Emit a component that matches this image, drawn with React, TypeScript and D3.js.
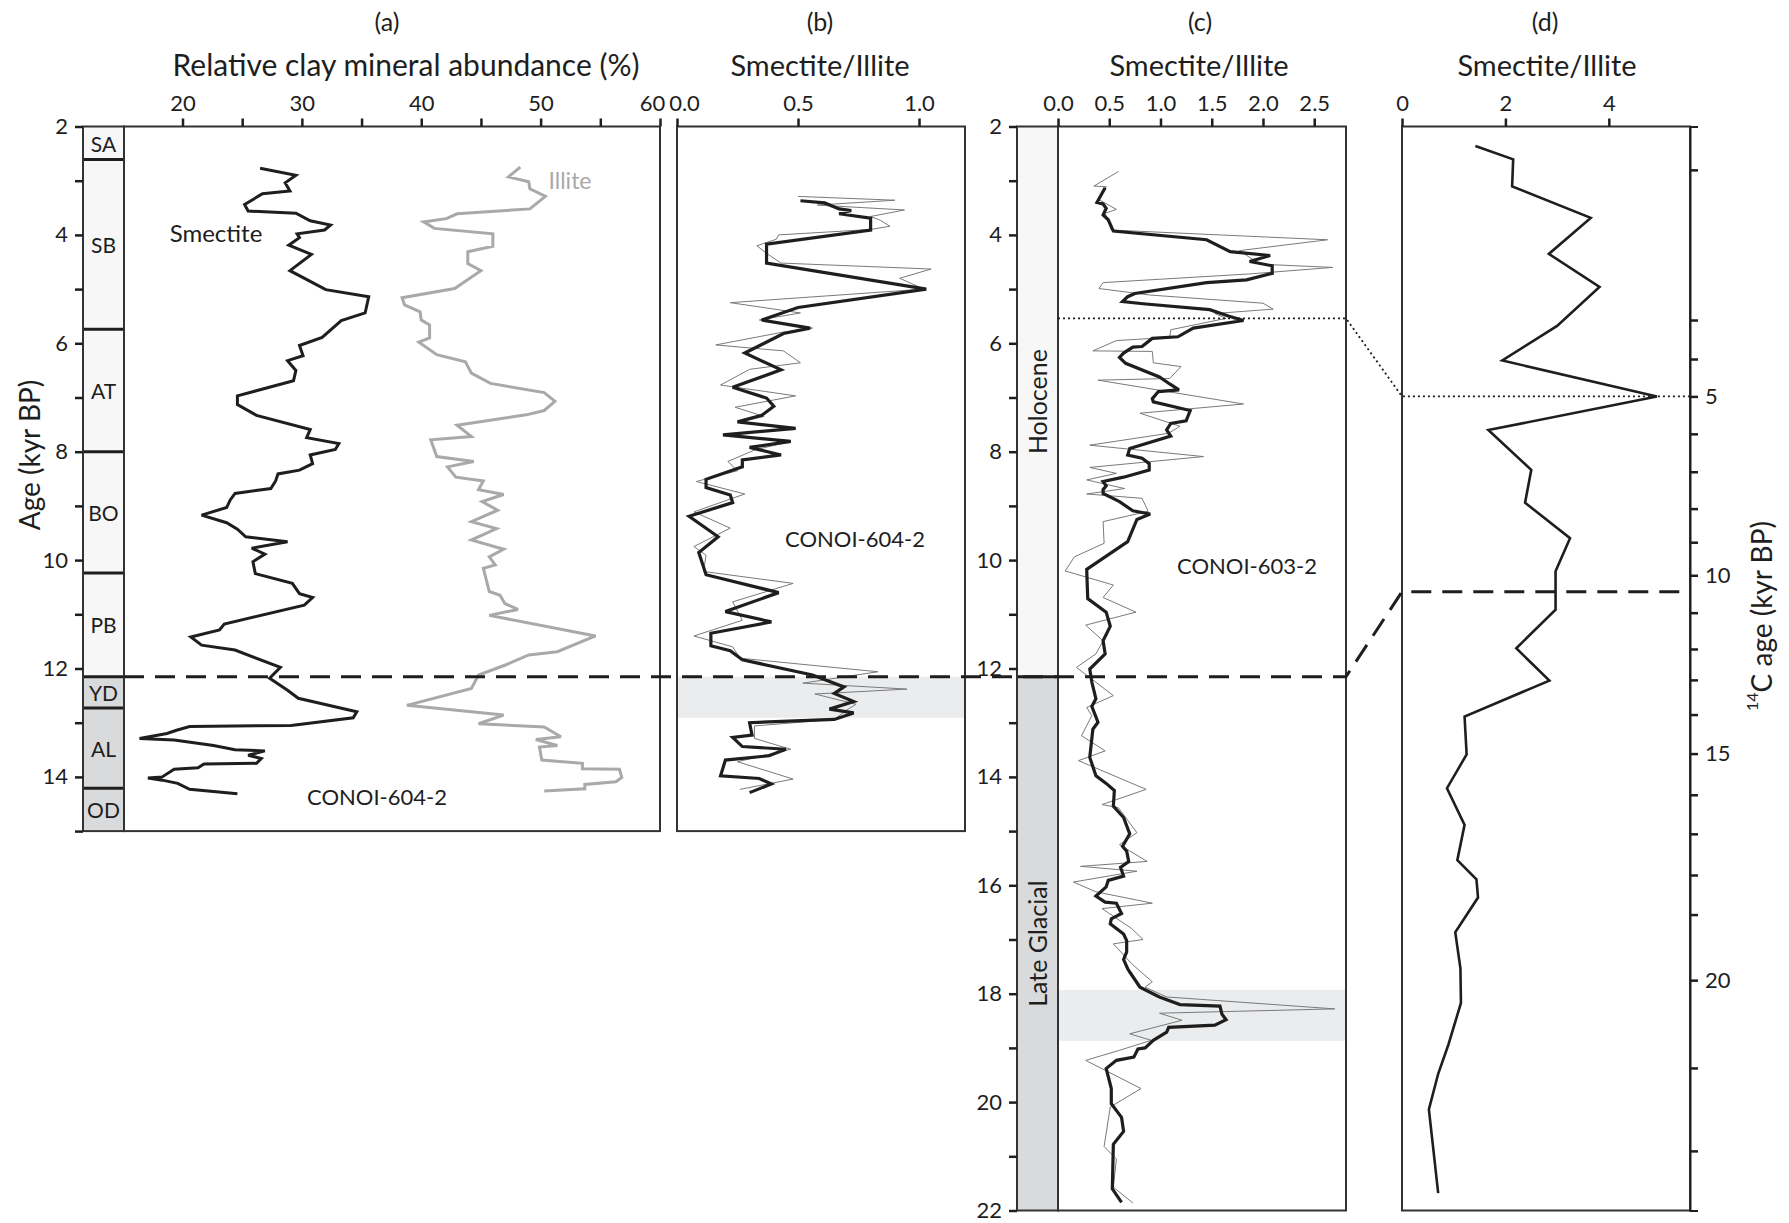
import React, { useEffect, useRef } from 'react';
import * as d3 from 'd3';

const FONT = "Lato, 'Open Sans', sans-serif";

// pollen zones of the CONOI-604-2 column (cal kyr BP)
const zoneNames = ['SA', 'SB', 'AT', 'BO', 'PB', 'YD', 'AL', 'OD'];
const zoneEdges = [2, 2.61, 5.74, 8.0, 10.24, 12.15, 12.73, 14.21, 15];
const zoneDark = [false, false, false, false, false, true, true, true];

// periods of the CONOI-603-2 column
const periodNames = ['Holocene', 'Late Glacial'];
const periodEdges = [2, 12.15, 22];

// (a) relative abundance (%) : [age cal kyr BP, value]
const smectite = [
  [2.77, 26.5], [2.9, 29.5], [3.04, 28.6], [3.19, 29.0], [3.24, 26.7], [3.44, 25.2], [3.56, 25.5],
  [3.6, 29.5], [3.74, 30.7], [3.82, 32.4], [3.91, 31.9], [3.98, 29.6], [4.05, 29.8], [4.19, 28.9],
  [4.36, 30.8], [4.66, 29.0], [5.01, 32.0], [5.14, 35.6], [5.44, 35.3], [5.58, 33.3], [5.89, 31.7],
  [6.04, 29.8], [6.23, 30.1], [6.32, 28.8], [6.5, 29.5], [6.69, 29.3], [6.97, 24.6], [7.13, 24.6],
  [7.33, 26.2], [7.59, 30.7], [7.74, 30.4], [7.85, 33.1], [7.96, 32.8], [8.06, 30.7], [8.22, 30.9],
  [8.34, 29.8], [8.41, 28.0], [8.54, 27.8], [8.68, 27.4], [8.77, 24.4], [8.89, 24.0], [9.03, 23.7],
  [9.17, 21.6], [9.31, 23.7], [9.43, 24.6], [9.57, 25.3], [9.66, 28.8], [9.78, 25.8], [9.89, 26.9],
  [10.03, 25.9], [10.25, 26.1], [10.43, 29.2], [10.62, 29.8], [10.69, 30.9], [10.83, 30.2],
  [11.18, 23.5], [11.29, 23.1], [11.42, 20.7], [11.57, 21.6], [11.66, 24.4], [11.98, 28.2],
  [12.18, 27.3], [12.4, 28.8], [12.55, 29.7], [12.8, 34.6], [12.91, 34.3], [13.05, 29.1],
  [13.07, 20.6], [13.14, 19.5], [13.2, 18.7], [13.29, 16.4], [13.32, 19.3], [13.42, 22.6],
  [13.5, 24.4], [13.52, 26.9], [13.6, 25.5], [13.66, 26.6], [13.75, 26.2], [13.76, 21.8],
  [13.83, 21.3], [13.86, 19.3], [14.0, 18.3], [14.02, 17.1], [14.06, 18.3], [14.12, 19.6],
  [14.23, 20.6], [14.31, 24.6],
];
const illite = [
  [2.75, 48.3], [2.93, 47.3], [3.02, 49.0], [3.15, 49.1], [3.29, 50.4], [3.52, 49.1], [3.61, 43.0],
  [3.7, 42.1], [3.76, 40.2], [3.88, 41.1], [3.98, 46.0], [4.21, 46.0], [4.31, 43.9], [4.53, 43.9],
  [4.66, 45.0], [4.99, 42.8], [5.16, 38.4], [5.29, 38.6], [5.42, 39.9], [5.57, 40.0], [5.66, 40.7],
  [5.9, 40.7], [5.98, 39.8], [6.21, 41.3], [6.34, 43.7], [6.55, 44.2], [6.74, 45.8], [6.91, 50.3],
  [7.07, 51.2], [7.24, 50.3], [7.32, 48.8], [7.51, 43.0], [7.72, 44.2], [7.78, 40.8], [8.09, 41.3],
  [8.18, 44.4], [8.28, 42.2], [8.47, 42.9], [8.54, 45.2], [8.7, 44.8], [8.79, 46.9], [8.92, 45.1],
  [9.08, 46.4], [9.29, 44.2], [9.42, 46.3], [9.63, 44.2], [9.8, 46.9], [9.94, 45.7], [10.09, 46.2],
  [10.15, 45.2], [10.58, 45.7], [10.65, 46.6], [10.8, 47.0], [10.91, 48.1], [11.02, 45.7],
  [11.4, 54.6], [11.69, 51.4], [11.75, 49.0], [11.94, 47.0], [12.12, 44.8], [12.37, 44.2],
  [12.68, 38.8], [12.86, 46.9], [13.02, 44.8], [13.08, 50.3], [13.26, 51.7], [13.31, 49.6],
  [13.42, 51.4], [13.45, 49.9], [13.69, 50.1], [13.75, 53.5], [13.85, 53.5], [13.86, 56.6],
  [14.01, 56.8], [14.09, 56.3], [14.14, 53.7], [14.22, 53.7], [14.26, 50.3],
];

// (b) smectite/illite CONOI-604-2 : [age, ratio]
const siB = [
  [3.37, 0.51], [3.41, 0.61], [3.52, 0.67], [3.55, 0.72], [3.61, 0.67], [3.69, 0.8], [3.91, 0.8],
  [4.17, 0.37], [4.52, 0.37], [5.0, 1.03], [5.34, 0.5], [5.57, 0.35], [5.72, 0.55], [5.82, 0.44],
  [6.18, 0.28], [6.49, 0.43], [6.81, 0.23], [7.01, 0.37], [7.16, 0.4], [7.33, 0.35], [7.45, 0.25],
  [7.57, 0.49], [7.69, 0.19], [7.81, 0.47], [7.92, 0.3], [8.06, 0.43], [8.15, 0.27], [8.28, 0.27],
  [8.51, 0.12], [8.66, 0.12], [8.8, 0.22], [8.94, 0.23], [9.19, 0.05], [9.57, 0.17], [9.86, 0.09],
  [10.27, 0.12], [10.6, 0.42], [10.95, 0.2], [11.14, 0.39], [11.35, 0.14], [11.58, 0.14],
  [11.67, 0.22], [11.84, 0.27], [12.12, 0.56], [12.34, 0.69], [12.46, 0.65], [12.61, 0.73],
  [12.75, 0.63], [12.82, 0.73], [12.94, 0.65], [13.0, 0.3], [13.23, 0.31], [13.27, 0.23],
  [13.44, 0.27], [13.49, 0.45], [13.61, 0.38], [13.69, 0.2], [13.98, 0.18], [14.03, 0.34],
  [14.13, 0.39], [14.29, 0.3],
];
const siBRaw = [
  [3.29, 0.5], [3.36, 0.9], [3.45, 0.58], [3.54, 0.94], [3.66, 0.8], [3.73, 0.84], [3.84, 0.88],
  [3.9, 0.8], [4.0, 0.42], [4.08, 0.41], [4.2, 0.33], [4.34, 0.37], [4.52, 0.43], [4.63, 1.05],
  [4.8, 0.92], [5.0, 1.02], [5.25, 0.22], [5.44, 0.51], [5.57, 0.34], [5.72, 0.56], [5.8, 0.43],
  [6.03, 0.16], [6.14, 0.44], [6.36, 0.51], [6.48, 0.3], [6.77, 0.18], [6.97, 0.49], [7.18, 0.24],
  [7.35, 0.36], [7.45, 0.26], [7.57, 0.49], [7.69, 0.2], [7.82, 0.46], [7.97, 0.32], [8.18, 0.21],
  [8.35, 0.25], [8.55, 0.08], [8.78, 0.28], [9.11, 0.07], [9.41, 0.22], [9.75, 0.07], [9.91, 0.12],
  [10.21, 0.11], [10.43, 0.48], [10.77, 0.23], [11.11, 0.27], [11.4, 0.07], [11.6, 0.23],
  [11.81, 0.26], [12.06, 0.83], [12.27, 0.52], [12.38, 0.95], [12.47, 0.57], [12.66, 0.74],
  [12.77, 0.7], [12.94, 0.65], [13.06, 0.32], [13.29, 0.32], [13.49, 0.47], [13.72, 0.25],
  [14.04, 0.48], [14.23, 0.26],
];

// (c) smectite/illite CONOI-603-2 : [age, ratio]
const siC = [
  [3.13, 0.46], [3.23, 0.43], [3.4, 0.38], [3.43, 0.44], [3.51, 0.47], [3.63, 0.44], [3.72, 0.49],
  [3.93, 0.54], [4.09, 1.45], [4.31, 1.68], [4.38, 2.07], [4.49, 1.87], [4.57, 2.09], [4.71, 2.09],
  [4.83, 1.84], [4.88, 1.45], [5.08, 0.75], [5.14, 0.68], [5.23, 0.63], [5.27, 0.83], [5.38, 1.48],
  [5.5, 1.67], [5.58, 1.81], [5.72, 1.32], [5.88, 1.17], [5.91, 0.92], [6.06, 0.82], [6.07, 0.73],
  [6.18, 0.64], [6.26, 0.6], [6.37, 0.66], [6.62, 0.99], [6.75, 1.09], [6.86, 1.18], [6.89, 0.98],
  [7.02, 0.92], [7.08, 0.93], [7.24, 1.29], [7.43, 1.25], [7.48, 1.1], [7.6, 1.06], [7.71, 1.1],
  [7.94, 0.7], [8.06, 0.68], [8.12, 0.82], [8.22, 0.89], [8.34, 0.89], [8.47, 0.64], [8.55, 0.44],
  [8.63, 0.47], [8.7, 0.44], [8.77, 0.44], [8.92, 0.6], [9.09, 0.73], [9.15, 0.9], [9.25, 0.77],
  [9.66, 0.68], [10.17, 0.28], [10.71, 0.29], [10.96, 0.47], [11.22, 0.51], [11.49, 0.44],
  [11.73, 0.46], [12.01, 0.31], [12.25, 0.33], [12.56, 0.37], [12.7, 0.33], [12.99, 0.39],
  [13.12, 0.34], [13.64, 0.31], [13.98, 0.37], [14.12, 0.47], [14.25, 0.55], [14.54, 0.54],
  [14.75, 0.64], [15.05, 0.7], [15.28, 0.63], [15.37, 0.67], [15.56, 0.69], [15.67, 0.61],
  [15.83, 0.64], [15.91, 0.49], [16.03, 0.47], [16.2, 0.37], [16.31, 0.46], [16.33, 0.57],
  [16.52, 0.62], [16.62, 0.52], [16.71, 0.51], [16.9, 0.64], [17.02, 0.67], [17.23, 0.67],
  [17.37, 0.64], [17.54, 0.68], [17.6, 0.7], [17.88, 0.8], [18.06, 0.99], [18.2, 1.19],
  [18.23, 1.58], [18.38, 1.6], [18.48, 1.64], [18.58, 1.53], [18.62, 1.08], [18.71, 1.06],
  [18.86, 0.93], [19.0, 0.85], [19.02, 0.78], [19.17, 0.74], [19.23, 0.57], [19.38, 0.47],
  [19.75, 0.52], [20.03, 0.52], [20.28, 0.62], [20.54, 0.64], [20.78, 0.54], [21.6, 0.53],
  [21.85, 0.62],
];
const siCRaw = [
  [2.83, 0.59], [3.1, 0.35], [3.11, 0.47], [3.35, 0.4], [3.53, 0.57], [3.6, 0.46], [3.91, 0.52],
  [4.09, 2.63], [4.29, 1.77], [4.54, 1.97], [4.6, 2.68], [4.72, 1.87], [4.88, 0.44], [4.99, 0.4],
  [5.11, 0.9], [5.26, 2.0], [5.37, 2.1], [5.45, 1.53], [5.54, 1.64], [5.75, 1.1], [5.89, 1.09],
  [5.95, 0.57], [6.14, 0.34], [6.15, 0.92], [6.36, 0.93], [6.43, 1.2], [6.65, 1.09], [6.68, 0.39],
  [7.12, 1.81], [7.29, 0.8], [7.53, 1.19], [7.66, 1.08], [7.88, 0.31], [8.09, 1.42], [8.29, 0.31],
  [8.4, 0.57], [8.52, 0.28], [8.68, 0.65], [8.78, 0.28], [8.86, 0.82], [9.1, 0.88], [9.29, 0.44],
  [9.69, 0.45], [9.94, 0.16], [10.2, 0.07], [10.46, 0.54], [10.69, 0.44], [10.96, 0.76],
  [11.2, 0.27], [11.49, 0.44], [11.73, 0.37], [11.98, 0.18], [12.5, 0.54], [12.72, 0.28],
  [12.87, 0.33], [13.24, 0.23], [13.52, 0.46], [13.7, 0.2], [14.23, 0.86], [14.51, 0.43],
  [14.57, 0.59], [15.03, 0.77], [15.25, 0.6], [15.56, 0.87], [15.65, 0.22], [15.74, 0.77],
  [15.94, 0.15], [16.12, 0.37], [16.33, 0.92], [16.43, 0.43], [16.8, 0.72], [17.0, 0.83],
  [17.08, 0.54], [17.45, 0.72], [17.78, 0.92], [17.88, 0.85], [18.06, 1.06], [18.28, 2.7],
  [18.36, 0.99], [18.49, 1.21], [18.74, 0.7], [18.86, 0.91], [19.05, 0.59], [19.23, 0.27],
  [19.75, 0.81], [20.09, 0.51], [20.82, 0.45], [21.05, 0.57], [21.57, 0.54], [21.86, 0.73],
];

// (d) smectite/illite : [14C age kyr BP, ratio]
const siD = [
  [1.84, 1.42], [1.93, 2.15], [2.11, 2.13], [2.32, 3.65], [2.56, 2.84], [2.78, 3.82], [3.15, 3.0],
  [4.04, 1.94], [5.0, 4.93], [5.9, 1.67], [6.95, 2.5], [7.84, 2.38], [8.88, 3.25], [9.88, 2.97],
  [10.92, 2.97], [11.98, 2.21], [13.02, 2.85], [14.05, 1.21], [15.02, 1.25], [15.84, 0.87],
  [16.77, 1.21], [17.64, 1.07], [18.11, 1.44], [18.57, 1.47], [19.27, 1.03], [19.82, 1.13],
  [20.26, 1.14], [20.73, 0.9], [21.07, 0.7], [21.5, 0.52], [22.51, 0.7],
];
// 14C age axis of (d) against the shared cal age axis
const c14Stops = [1.71, 2, 3, 4, 5, 6, 7, 8, 9, 10, 11, 12, 13, 14, 15, 16, 17, 18, 19, 20, 21, 22, 22.72];
const c14StopsCal = [2.0, 2.8, 5.57, 6.29, 6.98, 7.67, 8.37, 9.05, 9.67, 10.28, 10.97, 11.64, 12.21,
  12.85, 13.57, 14.33, 15.05, 15.81, 16.54, 17.75, 19.37, 20.9, 22.0];

const ticksA = [20, 25, 30, 35, 40, 45, 50, 55, 60];
const ticksB = [0, 0.5, 1.0];
const ticksC = [0, 0.5, 1.0, 1.5, 2.0, 2.5];
const ticksD = [0, 2, 4];
const ageTicks604 = [2, 3, 4, 5, 6, 7, 8, 9, 10, 11, 12, 13, 14, 15];
const ageTicks603 = [2, 3, 4, 5, 6, 7, 8, 9, 10, 11, 12, 13, 14, 15, 16, 17, 18, 19, 20, 21, 22];
const c14Ticks = [2, 3, 4, 5, 6, 7, 8, 9, 10, 11, 12, 13, 14, 15, 16, 17, 18, 19, 20, 21, 22];

const boundaryAge = 12.15; // Holocene / Late Glacial
const boundaryC14 = 10.44;
const markAge = 5.54;
const markC14 = 5;
const bandB = [12.15, 12.91];
const bandC = [17.93, 18.87];

export default function App() {
  const ref = useRef<SVGSVGElement>(null);

  useEffect(() => {
    const svg = d3.select(ref.current);
    svg.selectAll('*').remove();

    const y = d3.scaleLinear().domain([2, 22]).range([126.5, 1210.5]);
    const y604 = d3.scaleLinear().domain([2, 15]).range([y(2), y(15)]);
    const xA = d3.scaleLinear().domain([15.1, 60]).range([124, 660]);
    const xB = d3.scaleLinear().domain([0, 1.19]).range([677, 965]);
    const xC = d3.scaleLinear().domain([0, 2.81]).range([1058, 1346]);
    const xD = d3.scaleLinear().domain([0, 5.57]).range([1402, 1690]);
    const c14 = d3.scaleLinear().domain(c14Stops).range(c14StopsCal.map(d => y(d)));
    const stripA = [83, 124];
    const stripC = [1017, 1058];

    const ink = '#1e1e1e';

    const text = (x, yy, s, size, opts: any = {}) => {
      const t = svg.append('text')
        .attr('x', x).attr('y', yy)
        .attr('font-family', FONT).attr('font-size', size)
        .attr('fill', opts.fill || ink)
        .attr('text-anchor', opts.anchor || 'middle')
        .attr('dominant-baseline', opts.baseline || 'auto')
        .text(s);
      if (opts.rotate) t.attr('transform', `rotate(-90,${x},${yy})`);
      return t;
    };

    // zone strip (a)
    zoneNames.forEach((z, i) => {
      svg.append('rect')
        .attr('x', stripA[0]).attr('width', stripA[1] - stripA[0])
        .attr('y', y(zoneEdges[i])).attr('height', y(zoneEdges[i + 1]) - y(zoneEdges[i]))
        .attr('fill', zoneDark[i] ? '#d9dadc' : '#f7f7f7');
    });
    zoneEdges.slice(1, -1).forEach(e => {
      svg.append('line').attr('x1', stripA[0]).attr('x2', stripA[1])
        .attr('y1', y(e)).attr('y2', y(e)).attr('stroke', ink).attr('stroke-width', 3);
    });
    zoneNames.forEach((z, i) => {
      text((stripA[0] + stripA[1]) / 2, (y(zoneEdges[i]) + y(zoneEdges[i + 1])) / 2, z, 21,
        { baseline: 'central' });
    });

    // period strip (c)
    periodNames.forEach((p, i) => {
      svg.append('rect')
        .attr('x', stripC[0]).attr('width', stripC[1] - stripC[0])
        .attr('y', y(periodEdges[i])).attr('height', y(periodEdges[i + 1]) - y(periodEdges[i]))
        .attr('fill', i === 0 ? '#f7f7f7' : '#d9dadc');
      text((stripC[0] + stripC[1]) / 2, (y(periodEdges[i]) + y(periodEdges[i + 1])) / 2, p, 25,
        { baseline: 'central', rotate: true });
    });
    svg.append('line').attr('x1', stripC[0]).attr('x2', stripC[1])
      .attr('y1', y(periodEdges[1])).attr('y2', y(periodEdges[1]))
      .attr('stroke', ink).attr('stroke-width', 3);

    // shaded intervals
    svg.append('rect').attr('x', xB.range()[0]).attr('width', xB.range()[1] - xB.range()[0])
      .attr('y', y(bandB[0])).attr('height', y(bandB[1]) - y(bandB[0])).attr('fill', '#ebecee');
    svg.append('rect').attr('x', xC.range()[0]).attr('width', xC.range()[1] - xC.range()[0])
      .attr('y', y(bandC[0])).attr('height', y(bandC[1]) - y(bandC[0])).attr('fill', '#ebecee');

    // curves
    const curve = (data, x, yy, color, width) => {
      const line = d3.line<number[]>().x(d => x(d[1])).y(d => yy(d[0]));
      svg.append('path').datum(data).attr('d', line)
        .attr('fill', 'none').attr('stroke', color).attr('stroke-width', width)
        .attr('stroke-linejoin', 'miter').attr('stroke-miterlimit', 3);
    };
    curve(illite, xA, y, '#a9a9a9', 3);
    curve(smectite, xA, y, ink, 3);
    curve(siBRaw, xB, y, '#7a7a7a', 1);
    curve(siB, xB, y, ink, 3.2);
    curve(siCRaw, xC, y, '#7a7a7a', 1);
    curve(siC, xC, y, ink, 3.2);
    curve(siD, xD, c14, ink, 2.6);

    // frames
    const frame = (x0, x1, y0, y1) => svg.append('rect')
      .attr('x', x0).attr('y', y0).attr('width', x1 - x0).attr('height', y1 - y0)
      .attr('fill', 'none').attr('stroke', '#333').attr('stroke-width', 2);
    frame(stripA[0], stripA[1], y(2), y(15));
    frame(xA.range()[0], xA.range()[1], y(2), y(15));
    frame(xB.range()[0], xB.range()[1], y(2), y(15));
    frame(stripC[0], stripC[1], y(2), y(22));
    frame(xC.range()[0], xC.range()[1], y(2), y(22));
    frame(xD.range()[0], xD.range()[1], y(2), y(22));

    // correlation lines
    svg.append('path')
      .attr('d', d3.line()([
        [xA.range()[0], y(boundaryAge)], [xC.range()[1], y(boundaryAge)],
        [xD.range()[0], c14(boundaryC14)], [xD.range()[1], c14(boundaryC14)],
      ]))
      .attr('fill', 'none').attr('stroke', ink).attr('stroke-width', 3)
      .attr('stroke-dasharray', '20,11');
    svg.append('path')
      .attr('d', d3.line()([
        [xC.range()[0], y(markAge)], [xC.range()[1], y(markAge)],
        [xD.range()[0], c14(markC14)], [xD.range()[1], c14(markC14)],
      ]))
      .attr('fill', 'none').attr('stroke', ink).attr('stroke-width', 1.8)
      .attr('stroke-dasharray', '2,3');

    // axes
    const styleAxis = (g, keepDomain = false) => {
      g.attr('font-family', FONT).attr('font-size', 22).style('color', ink);
      g.selectAll('.tick line').attr('stroke-width', 2.5);
      if (keepDomain) g.select('.domain').attr('stroke-width', 2);
      else g.select('.domain').remove();
      return g;
    };
    const top = y(2);
    styleAxis(svg.append('g').attr('transform', `translate(0,${top})`)
      .call(d3.axisTop(xA).tickValues(ticksA).tickSize(8).tickPadding(8)
        .tickFormat(d => (+d % 10 === 0 ? String(d) : ''))))
      .selectAll('.tick').filter(d => d === 60).select('text').attr('dx', -8);
    styleAxis(svg.append('g').attr('transform', `translate(0,${top})`)
      .call(d3.axisTop(xB).tickValues(ticksB).tickSize(8).tickPadding(8).tickFormat(d3.format('.1f'))))
      .selectAll('.tick').filter(d => d === 0).select('text').attr('dx', 7);
    styleAxis(svg.append('g').attr('transform', `translate(0,${top})`)
      .call(d3.axisTop(xC).tickValues(ticksC).tickSize(8).tickPadding(8).tickFormat(d3.format('.1f'))));
    styleAxis(svg.append('g').attr('transform', `translate(0,${top})`)
      .call(d3.axisTop(xD).tickValues(ticksD).tickSize(8).tickPadding(8).tickFormat(d3.format('d'))));
    styleAxis(svg.append('g').attr('transform', `translate(${stripA[0]},0)`)
      .call(d3.axisLeft(y604).tickValues(ageTicks604).tickSize(8).tickPadding(7)
        .tickFormat(d => (+d % 2 === 0 ? String(d) : ''))));
    styleAxis(svg.append('g').attr('transform', `translate(${stripC[0]},0)`)
      .call(d3.axisLeft(y).tickValues(ageTicks603).tickSize(8).tickPadding(7)
        .tickFormat(d => (+d % 2 === 0 ? String(d) : ''))));
    styleAxis(svg.append('g').attr('transform', `translate(${xD.range()[1]},0)`)
      .call(d3.axisRight(c14).tickValues(c14Ticks).tickSize(8).tickSizeOuter(8).tickPadding(7)
        .tickFormat(d => (+d % 5 === 0 ? String(d) : ''))), true);

    // titles
    text(387, 31, '(a)', 25);
    text(406, 76, 'Relative clay mineral abundance (%)', 30);
    text(820, 31, '(b)', 25);
    text(820, 76, 'Smectite/Illite', 29);
    text(1200, 31, '(c)', 25);
    text(1199, 76, 'Smectite/Illite', 29);
    text(1545, 31, '(d)', 25);
    text(1547, 76, 'Smectite/Illite', 29);
    text(29, 455, 'Age (kyr BP)', 28, { rotate: true, baseline: 'central' });

    const c14Label = svg.append('text')
      .attr('x', 1761).attr('y', 616)
      .attr('font-family', FONT).attr('font-size', 28).attr('fill', ink)
      .attr('text-anchor', 'middle').attr('dominant-baseline', 'central')
      .attr('transform', 'rotate(-90,1761,616)');
    c14Label.append('tspan').attr('font-size', 16).attr('dy', -10).text('14');
    c14Label.append('tspan').attr('dy', 10).text('C age (kyr BP)');

    // labels inside panels
    text(216, 232, 'Smectite', 24, { baseline: 'central' });
    text(570, 180, 'Illite', 23, { baseline: 'central', fill: '#a9a9a9' });
    text(377, 796, 'CONOI-604-2', 22, { baseline: 'central' });
    text(855, 538, 'CONOI-604-2', 22, { baseline: 'central' });
    text(1247, 565, 'CONOI-603-2', 22, { baseline: 'central' });
  }, []);

  return (
    <svg ref={ref} width={1789} height={1223}
      style={{ position: 'absolute', left: 0, top: 0, background: '#fff' }} />
  );
}
